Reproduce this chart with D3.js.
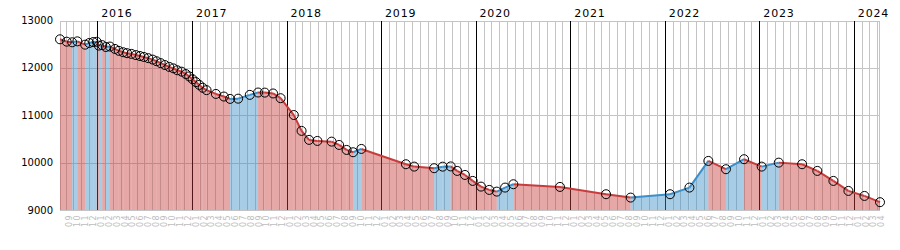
<!DOCTYPE html>
<html>
<head>
<meta charset="utf-8">
<script src="https://d3js.org/d3.v7.min.js"></script>
<style>
body { margin: 0; background: #fff; }
svg { font-family: "DejaVu Sans", Verdana, sans-serif; }
.grid line { stroke: #c4c4c4; stroke-width: 1; shape-rendering: crispEdges; }
.grid line.year { stroke: #000; }
.ylab { font-size: 10px; fill: #000; }
.yearlab { font-size: 11px; letter-spacing: 0.8px; fill: #000; }
.monthlab { font-size: 8px; letter-spacing: 1.4px; fill: #bdbdbd; }
</style>
</head>
<body>
<svg width="900" height="250"></svg>
<script>

// ----- data ---------------------------------------------------------
var dates = [
  "2015-08-10","2015-09-05","2015-09-26","2015-10-16","2015-11-15","2015-12-01","2015-12-16","2015-12-30",
  "2016-01-07","2016-01-20","2016-02-03","2016-02-19","2016-03-09","2016-03-24","2016-04-10","2016-04-25",
  "2016-05-12","2016-05-29","2016-06-14","2016-06-29","2016-07-16","2016-08-02","2016-08-17","2016-09-02",
  "2016-09-18","2016-10-05","2016-10-21","2016-11-05","2016-11-22","2016-12-08","2016-12-21",
  "2017-01-03","2017-01-16","2017-01-29","2017-02-11","2017-02-26","2017-04-03","2017-05-04","2017-05-28",
  "2017-06-28","2017-08-12","2017-09-13","2017-10-09","2017-11-10","2017-12-09",
  "2018-01-29","2018-02-28","2018-03-29","2018-04-30","2018-06-24","2018-07-23","2018-08-21","2018-09-15","2018-10-17",
  "2019-04-07","2019-05-09","2019-07-25","2019-08-27","2019-09-27","2019-10-22","2019-11-21","2019-12-21",
  "2020-01-22","2020-02-23","2020-03-23","2020-04-24","2020-05-26","2020-11-22",
  "2021-05-19","2021-08-22",
  "2022-01-21","2022-04-06","2022-06-18","2022-08-25","2022-11-03",
  "2023-01-10","2023-03-17","2023-06-15","2023-08-13","2023-10-14","2023-12-11",
  "2024-02-11","2024-04-11"
];
var values = [
  12603,12553,12540,12560,12490,12525,12545,12550,
  12470,12480,12440,12450,12400,12360,12330,12310,
  12295,12270,12250,12230,12205,12175,12140,12100,
  12060,12020,11990,11950,11920,11870,11820,
  11760,11700,11640,11580,11530,11450,11395,11345,
  11350,11430,11480,11478,11460,11360,
  11005,10670,10480,10458,10443,10373,10268,10219,10289,
  9966,9916,9882,9915,9920,9825,9740,9614,
  9494,9424,9388,9473,9544,9487,
  9333,9262,
  9333,9473,10036,9861,10072,
  9916,10000,9966,9825,9614,9403,
  9297,9165
];
var yTicks = [9000, 10000, 11000, 12000, 13000];
var years = ["2016","2017","2018","2019","2020","2021","2022","2023","2024"];

var red = "#c83c3c", blue = "#3c8fc8";

// ----- setup ---------------------------------------------------------
var parse = d3.utcParse("%Y-%m-%d");
var points = dates.map(function(d, i) { return { date: parse(d), value: values[i] }; });

var svg = d3.select("svg");
var plotL = 60, plotR = 880, plotT = 20.5, plotB = 210;

var x = d3.scaleUtc()
    .domain(d3.extent(points, function(d) { return d.date; }))
    .range([plotL, plotR]);
var y = d3.scaleLinear()
    .domain([9000, 13000])
    .range([plotB, plotT]);

// ----- grid ----------------------------------------------------------
var months = d3.utcMonth.range(d3.utcMonth.ceil(x.domain()[0]), x.domain()[1]);
var yearDates = years.map(function(s) { return parse(s + "-01-01"); });

var grid = svg.append("g").attr("class", "grid");

grid.selectAll(".h").data(yTicks).enter().append("line")
    .attr("x1", plotL).attr("x2", plotR)
    .attr("y1", function(d) { return Math.round(y(d)) + 0.5; })
    .attr("y2", function(d) { return Math.round(y(d)) + 0.5; });

grid.append("line").attr("x1", plotL + 0.5).attr("x2", plotL + 0.5).attr("y1", plotT).attr("y2", plotB);
grid.append("line").attr("x1", plotR - 0.5).attr("x2", plotR - 0.5).attr("y1", plotT).attr("y2", plotB);

grid.selectAll(".m").data(months).enter().append("line")
    .attr("class", function(d) { return d.getUTCMonth() === 0 ? "year" : null; })
    .attr("x1", function(d) { return Math.round(x(d)) + 0.5; })
    .attr("x2", function(d) { return Math.round(x(d)) + 0.5; })
    .attr("y1", plotT).attr("y2", plotB);

// ----- areas & line, coloured by direction ---------------------------
var segs = d3.pairs(points);

var area = d3.area()
    .x(function(d) { return x(d.date); })
    .y0(y(9000))
    .y1(function(d) { return y(d.value); });
var line = d3.line()
    .x(function(d) { return x(d.date); })
    .y(function(d) { return y(d.value); });

function col(s) { return s[1].value > s[0].value ? blue : red; }

svg.append("g").selectAll("path").data(segs).enter().append("path")
    .attr("d", area)
    .attr("fill", col)
    .attr("fill-opacity", 0.45);

svg.append("g").selectAll("path").data(segs).enter().append("path")
    .attr("d", line)
    .attr("fill", "none")
    .attr("stroke", col)
    .attr("stroke-width", 2);

svg.append("g").selectAll("circle").data(points).enter().append("circle")
    .attr("cx", function(d) { return x(d.date); })
    .attr("cy", function(d) { return y(d.value); })
    .attr("r", 4.5)
    .attr("fill", "none")
    .attr("stroke", "#000")
    .attr("stroke-width", 1);

// ----- labels --------------------------------------------------------
svg.append("g").selectAll("text").data(yTicks).enter().append("text")
    .attr("class", "ylab")
    .attr("x", 53)
    .attr("y", function(d) { return y(d); })
    .attr("dy", "0.35em")
    .attr("text-anchor", "end")
    .text(function(d) { return d; });

svg.append("g").selectAll("text").data(yearDates).enter().append("text")
    .attr("class", "yearlab")
    .attr("x", function(d) { return x(d) + 4; })
    .attr("y", 16.5)
    .text(function(d, i) { return years[i]; });

var fmt = d3.utcFormat("%m");
svg.append("g").selectAll("text").data(months).enter().append("text")
    .attr("class", "monthlab")
    .attr("transform", function(d) {
      var mid = x(d3.utcDay.offset(d, 15));
      return "translate(" + mid + ",214) rotate(-90)";
    })
    .attr("dy", "0.35em")
    .attr("text-anchor", "end")
    .text(fmt);

</script>
</body>
</html>
